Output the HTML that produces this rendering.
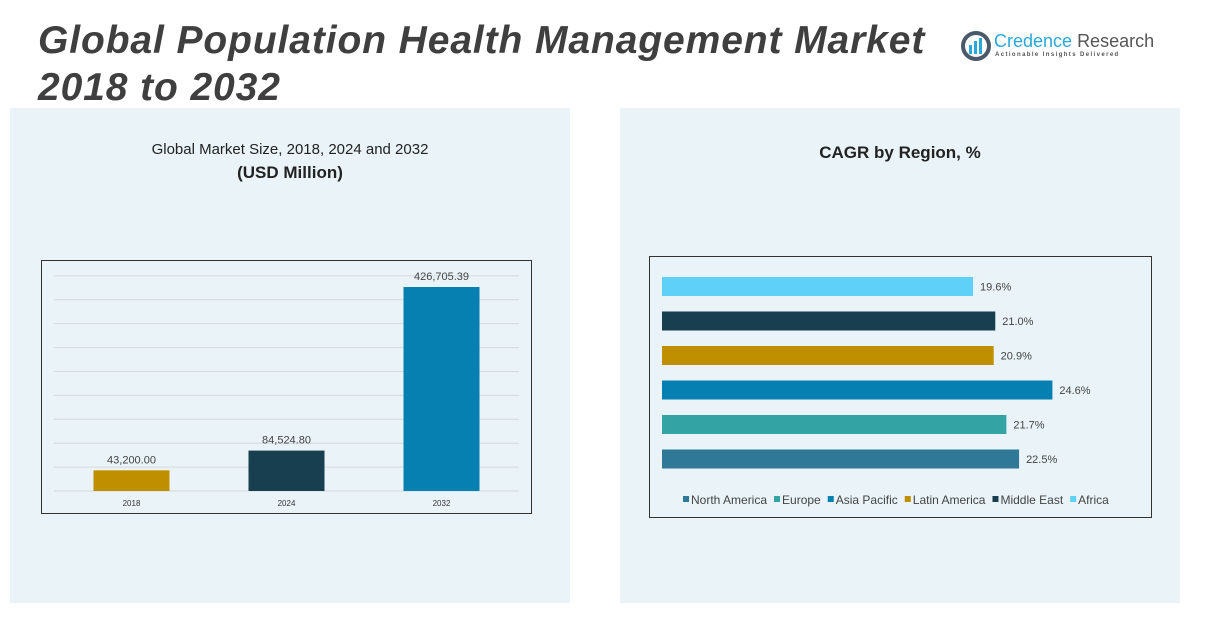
<!DOCTYPE html>
<html><head><meta charset="utf-8">
<style>
body{margin:0;width:1207px;height:631px;background:#fff;position:relative;overflow:hidden;font-family:"Liberation Sans",sans-serif;}
.panel{position:absolute;background:#e9f3f8;}
h1{position:absolute;left:38px;top:17px;margin:0;font-size:39px;line-height:47px;font-style:italic;font-weight:bold;color:#3f3f3f;letter-spacing:0.9px;}
.t{position:absolute;text-align:center;color:#222;}
</style></head><body>
<div class="panel" style="left:10px;top:108px;width:560px;height:495px;"></div>
<div class="panel" style="left:620px;top:108px;width:560px;height:495px;"></div>
<h1>Global Population Health Management Market<br>2018 to 2032</h1>
<div style="position:absolute;left:960px;top:28px;width:200px;height:40px;">
<svg width="34" height="34" style="position:absolute;left:0;top:2px"><circle cx="16" cy="16" r="13" fill="none" stroke="#4a5a6a" stroke-width="4"/><rect x="9" y="15" width="3" height="9" fill="#2aa8d8"/><rect x="14" y="11" width="3" height="13" fill="#2aa8d8"/><rect x="19" y="8" width="3" height="16" fill="#2aa8d8"/></svg>
<div style="position:absolute;left:34px;top:3px;font-size:18px;color:#2aa8d8;white-space:nowrap">Credence <span style="color:#555">Research</span></div>
<div style="position:absolute;left:35px;top:24px;font-size:6px;letter-spacing:1.4px;color:#555;white-space:nowrap;font-weight:bold">Actionable Insights Delivered</div>
</div>
<div class="t" style="left:90px;top:141px;width:400px;font-size:15px;">Global Market Size, 2018, 2024 and 2032</div>
<div class="t" style="left:90px;top:163px;width:400px;font-size:17px;font-weight:bold;">(USD Million)</div>
<div class="t" style="left:700px;top:143px;width:400px;font-size:17px;font-weight:bold;">CAGR by Region, %</div>
<svg id="c1" width="1207" height="631" style="position:absolute;left:0;top:0"></svg>
<script>
const years=["2018","2024","2032"];
const sizes=[43200.00,84524.80,426705.39];
const sizeLabels=["43,200.00","84,524.80","426,705.39"];
const barColors=["#c08f00","#173f4f","#0580b0"];
const regions=["North America","Europe","Asia Pacific","Latin America","Middle East","Africa"];
const cagr=[22.5,21.7,24.6,20.9,21.0,19.6];
const regionColors=["#2f7898","#34a3a3","#0580b0","#c08f00","#173f4f","#5fd0f8"];
const NS="http://www.w3.org/2000/svg";
const svg=document.getElementById('c1');
function mk(t,a,txt){const e=document.createElementNS(NS,t);for(const k in a)e.setAttribute(k,a[k]);if(txt!=null)e.textContent=txt;svg.appendChild(e);return e;}
let e=mk('rect',{x:41.5,y:260.5,width:490,height:253,fill:'none',stroke:'#333','stroke-width':1});


const y0=491,pxPer=204/426705,left=54,right=519;
const ys=v=>y0-v*pxPer;
for(let g=0;g<=450000;g+=50000){
 e=mk('line',{x1:left,x2:right,y1:ys(g),y2:ys(g),stroke:'#d4dadd','stroke-width':1});
 
 
}
const bw=(right-left)/years.length;
years.forEach((y,i)=>{
 const cx=left+bw*(i+0.5);
 e=mk('rect',{x:cx-38,y:ys(sizes[i]),width:76,height:y0-ys(sizes[i]),fill:barColors[i]});
 
 
 e=mk('text',{x:cx,y:ys(sizes[i])-7,'text-anchor':'middle','font-size':11,fill:'#444'},sizeLabels[i]);
 
 
 e=mk('text',{x:cx,y:506,'text-anchor':'middle','font-size':8,fill:'#333'},y);
 
 
});
e=mk('rect',{x:649.5,y:256.5,width:502,height:261,fill:'none',stroke:'#333','stroke-width':1});


const x0=662,pxPct=15.87;
regions.forEach((r,i)=>{
 const cy=459-i*34.5;
 e=mk('rect',{x:x0,y:cy-9.5,width:cagr[i]*pxPct,height:19,fill:regionColors[i]});
 
 
 e=mk('text',{x:x0+cagr[i]*pxPct+7,y:cy+4,'font-size':11,fill:'#444'},cagr[i].toFixed(1)+'%');
 
 
});
let lx=683;
regions.forEach((r,i)=>{
 e=mk('rect',{x:lx,y:496,width:6,height:6,fill:regionColors[i]});
 
 
 const t=mk('text',{x:lx+8,y:504,'font-size':12,fill:'#444'},r);
 
 
 lx+=8+t.getComputedTextLength()+7;
});
</script>
</body></html>
